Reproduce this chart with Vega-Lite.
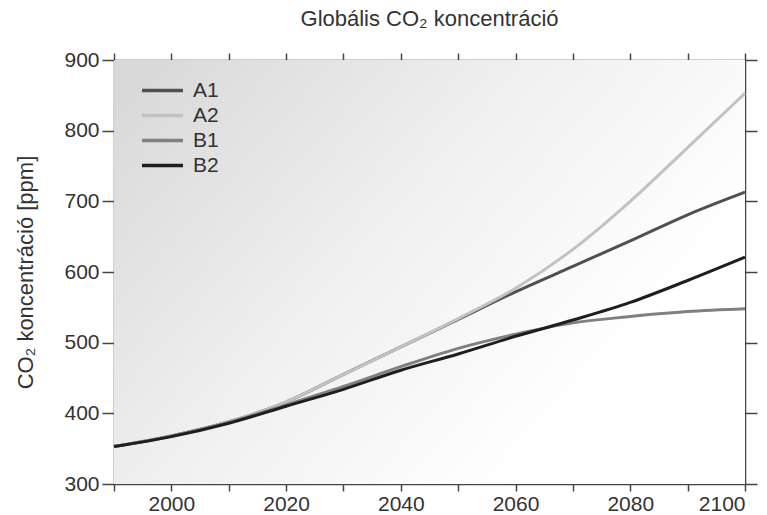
{
  "$schema": "https://vega.github.io/schema/vega-lite/v6.json",
  "width": 631,
  "height": 424,
  "autosize": "none",
  "padding": {"left": 114, "top": 60, "right": 22, "bottom": 31},
  "background": "#ffffff",
  "config": {
    "view": {"stroke": null},
    "font": "Liberation Sans",
    "axis": {"domainColor": "#444444", "tickColor": "#444444", "domainWidth": 1.5, "tickWidth": 1.5, "labelColor": "#333333", "titleColor": "#333333", "grid": false, "labelFontSize": 21, "titleFontSize": 22, "titleFontWeight": "normal", "tickSize": 7}
  },
  "title": {"text": "Globális CO₂ koncentráció", "fontSize": 22, "fontWeight": "normal", "color": "#333333", "offset": 18, "anchor": "middle"},
  "layer": [
    {
      "data": {"values": [{}]},
      "mark": {
        "type": "rect",
        "fill": {"gradient": "linear", "x1": 0, "y1": 0.1, "x2": 1, "y2": 0.7,
          "stops": [{"offset": 0, "color": "#d9d9d9"}, {"offset": 0.45, "color": "#f0f0f0"}, {"offset": 0.85, "color": "#ffffff"}, {"offset": 1, "color": "#ffffff"}]}
      },
      "encoding": {
        "x": {"datum": 1990, "type": "quantitative", "scale": {"domain": [1990, 2100], "nice": false, "zero": false},
          "axis": {"orient": "bottom", "title": null, "values": [1990, 2000, 2010, 2020, 2030, 2040, 2050, 2060, 2070, 2080, 2090, 2100], "format": "d", "labelExpr": "datum.value % 20 == 0 ? datum.label : ''", "labelPadding": 2}},
        "x2": {"datum": 2100},
        "y": {"datum": 300, "type": "quantitative", "scale": {"domain": [300, 900], "nice": false, "zero": false},
          "axis": {"orient": "left", "title": "CO₂ koncentráció [ppm]", "values": [300, 400, 500, 600, 700, 800, 900], "tickSize": 12, "labelPadding": 3, "titlePadding": 26}},
        "y2": {"datum": 900}
      }
    },
    {
      "data": {"values": [
        {"scenario": "A1", "year": 1990, "ppm": 353}, {"scenario": "A1", "year": 2000, "ppm": 368}, {"scenario": "A1", "year": 2010, "ppm": 388}, {"scenario": "A1", "year": 2020, "ppm": 416}, {"scenario": "A1", "year": 2030, "ppm": 455}, {"scenario": "A1", "year": 2040, "ppm": 494}, {"scenario": "A1", "year": 2050, "ppm": 533}, {"scenario": "A1", "year": 2060, "ppm": 572}, {"scenario": "A1", "year": 2070, "ppm": 608}, {"scenario": "A1", "year": 2080, "ppm": 644}, {"scenario": "A1", "year": 2090, "ppm": 681}, {"scenario": "A1", "year": 2100, "ppm": 713},
        {"scenario": "A2", "year": 1990, "ppm": 353}, {"scenario": "A2", "year": 2000, "ppm": 368}, {"scenario": "A2", "year": 2010, "ppm": 388}, {"scenario": "A2", "year": 2020, "ppm": 416}, {"scenario": "A2", "year": 2030, "ppm": 455}, {"scenario": "A2", "year": 2040, "ppm": 494}, {"scenario": "A2", "year": 2050, "ppm": 534}, {"scenario": "A2", "year": 2060, "ppm": 577}, {"scenario": "A2", "year": 2070, "ppm": 632}, {"scenario": "A2", "year": 2080, "ppm": 700}, {"scenario": "A2", "year": 2090, "ppm": 776}, {"scenario": "A2", "year": 2100, "ppm": 853},
        {"scenario": "B1", "year": 1990, "ppm": 353}, {"scenario": "B1", "year": 2000, "ppm": 368}, {"scenario": "B1", "year": 2010, "ppm": 387}, {"scenario": "B1", "year": 2020, "ppm": 412}, {"scenario": "B1", "year": 2030, "ppm": 438}, {"scenario": "B1", "year": 2040, "ppm": 466}, {"scenario": "B1", "year": 2050, "ppm": 492}, {"scenario": "B1", "year": 2060, "ppm": 512}, {"scenario": "B1", "year": 2070, "ppm": 528}, {"scenario": "B1", "year": 2080, "ppm": 537}, {"scenario": "B1", "year": 2090, "ppm": 544}, {"scenario": "B1", "year": 2100, "ppm": 548},
        {"scenario": "B2", "year": 1990, "ppm": 353}, {"scenario": "B2", "year": 2000, "ppm": 367}, {"scenario": "B2", "year": 2010, "ppm": 386}, {"scenario": "B2", "year": 2020, "ppm": 410}, {"scenario": "B2", "year": 2030, "ppm": 434}, {"scenario": "B2", "year": 2040, "ppm": 461}, {"scenario": "B2", "year": 2050, "ppm": 484}, {"scenario": "B2", "year": 2060, "ppm": 509}, {"scenario": "B2", "year": 2070, "ppm": 532}, {"scenario": "B2", "year": 2080, "ppm": 557}, {"scenario": "B2", "year": 2090, "ppm": 588}, {"scenario": "B2", "year": 2100, "ppm": 621}
      ]},
      "mark": {"type": "line", "interpolate": "monotone", "strokeWidth": 3},
      "encoding": {
        "x": {"field": "year", "type": "quantitative", "scale": {"domain": [1990, 2100], "nice": false, "zero": false},
          "axis": {"orient": "top", "title": null, "labels": false, "values": [1990, 2000, 2010, 2020, 2030, 2040, 2050, 2060, 2070, 2080, 2090, 2100]}},
        "y": {"field": "ppm", "type": "quantitative", "scale": {"domain": [300, 900], "nice": false, "zero": false},
          "axis": {"orient": "right", "title": null, "labels": false, "tickSize": 12, "values": [300, 400, 500, 600, 700, 800, 900]}},
        "color": {"field": "scenario", "type": "nominal",
          "scale": {"domain": ["A1", "A2", "B1", "B2"], "range": ["#505050", "#c2c2c2", "#808080", "#1e1e1e"]},
          "legend": {"title": null, "orient": "none", "legendX": 26, "legendY": 18, "symbolType": "stroke", "symbolSize": 1681, "symbolStrokeWidth": 3.5, "labelFontSize": 21, "labelColor": "#333333", "labelOffset": 8, "clipHeight": 25, "rowPadding": 0}}
      }
    }
  ],
  "resolve": {"axis": {"x": "independent", "y": "independent"}}
}
